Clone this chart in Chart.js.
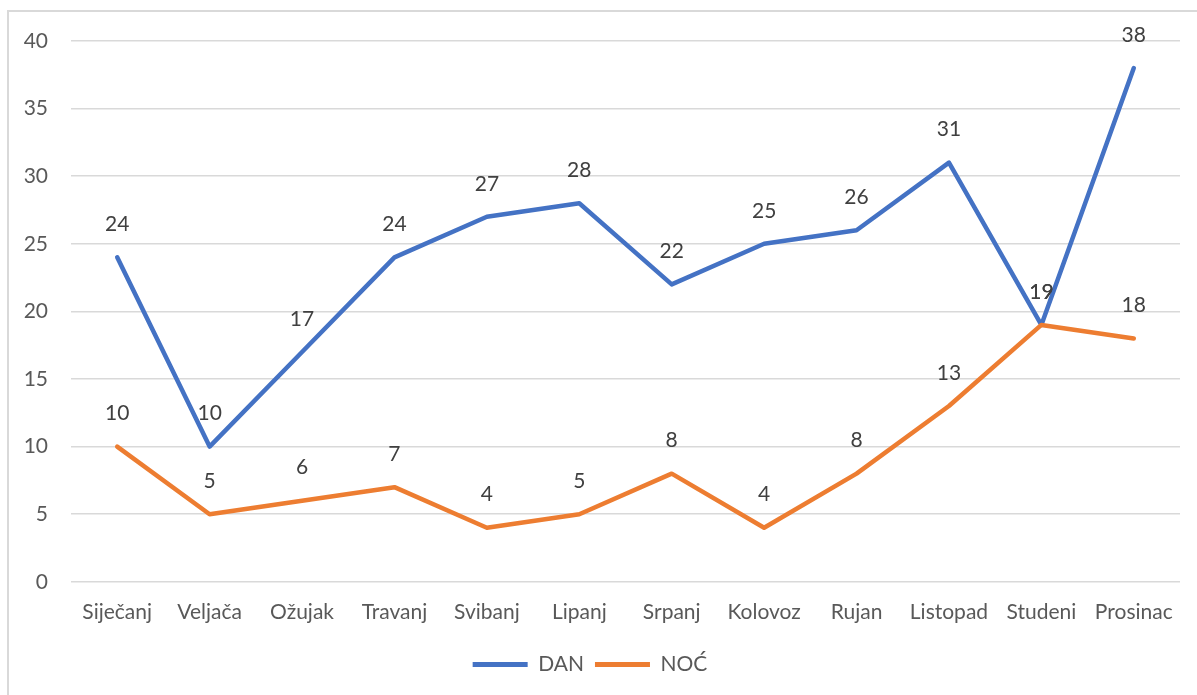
<!DOCTYPE html>
<html>
<head>
<meta charset="utf-8">
<script src="https://cdn.jsdelivr.net/npm/chart.js@4"></script>
<style>
  body { margin: 0; background: #fff; }
  #frame { position: absolute; left: 7px; top: 10px; width: 1200px; height: 700px; border: 2px solid #d9d9d9; box-sizing: border-box; }
  #wrap { position: absolute; left: 0; top: 0; width: 1197px; height: 695px; }
</style>
</head>
<body>
<div id="frame"></div>
<div id="wrap"><canvas id="chart"></canvas></div>
<script>
// Chart data
const months = ['Siječanj', 'Veljača', 'Ožujak', 'Travanj', 'Svibanj', 'Lipanj', 'Srpanj', 'Kolovoz', 'Rujan', 'Listopad', 'Studeni', 'Prosinac'];
const dan = [24, 10, 17, 24, 27, 28, 22, 25, 26, 31, 19, 38];
const noc = [10, 5, 6, 7, 4, 5, 8, 4, 8, 13, 19, 18];

const fontFamily = 'Lato, "Open Sans", sans-serif';

// Draw value labels above each point
const valueLabels = {
    id: 'valueLabels',
    afterDatasetsDraw(chart) {
        const ctx = chart.ctx;
        ctx.save();
        ctx.font = '21px ' + fontFamily;
        ctx.fillStyle = '#404040';
        ctx.textAlign = 'center';
        ctx.textBaseline = 'middle';
        chart.data.datasets.forEach((ds, i) => {
            chart.getDatasetMeta(i).data.forEach((pt, j) => {
                ctx.fillText(ds.data[j], pt.x, pt.y - 33);
            });
        });
        ctx.restore();
    }
};

const chart = new Chart(document.getElementById('chart'), {
    type: 'line',
    data: {
        labels: months,
        datasets: [{
            label: 'DAN',
            data: dan,
            borderColor: '#4472C4',
            backgroundColor: '#4472C4',
            borderWidth: 4.5,
            order: 1
        }, {
            label: 'NOĆ',
            data: noc,
            borderColor: '#ED7D31',
            backgroundColor: '#ED7D31',
            borderWidth: 4.5,
            order: 0
        }]
    },
    options: {
        responsive: true,
        maintainAspectRatio: false,
        animation: false,
        layout: { padding: { top: 41, right: 17, bottom: 10, left: 0 } },
        elements: {
            point: { radius: 0, hoverRadius: 0 },
            line: { tension: 0, borderJoinStyle: 'round', borderCapStyle: 'round' }
        },
        scales: {
            x: {
                offset: true,
                grid: { display: false, drawTicks: false },
                border: { display: false },
                ticks: { color: '#595959', font: { size: 21, family: fontFamily }, padding: 18, maxRotation: 0 }
            },
            y: {
                min: 0,
                max: 40,
                grid: { color: '#d9d9d9', lineWidth: 1.5, drawTicks: false },
                border: { display: false },
                ticks: { stepSize: 5, color: '#595959', font: { size: 21, family: fontFamily }, padding: 23 },
                afterFit(scale) { scale.width = 71; }
            }
        },
        plugins: {
            legend: {
                position: 'bottom',
                labels: {
                    color: '#595959',
                    font: { size: 21, family: fontFamily },
                    boxWidth: 55,
                    boxHeight: 5,
                    padding: 11,
                    sort: (a, b) => a.datasetIndex - b.datasetIndex,
                    generateLabels(chart) {
                        return chart.data.datasets.map((ds, i) => ({
                            text: ds.label,
                            fillStyle: ds.borderColor,
                            strokeStyle: ds.borderColor,
                            lineWidth: 0,
                            fontColor: '#595959',
                            datasetIndex: i
                        }));
                    }
                }
            },
            tooltip: { enabled: false }
        }
    },
    plugins: [valueLabels]
});
</script>
</body>
</html>
